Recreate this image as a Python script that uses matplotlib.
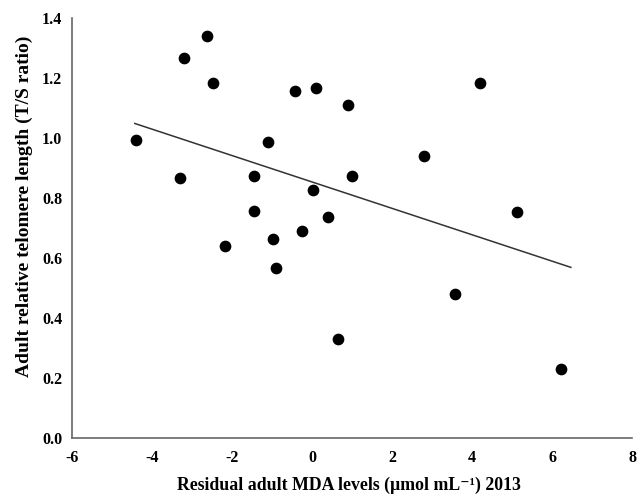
import numpy as np
import matplotlib.pyplot as plt

plt.rcParams['font.family'] = ['Liberation Serif', 'DejaVu Serif']
plt.rcParams['font.weight'] = 'bold'
plt.rcParams['axes.unicode_minus'] = False

# residual adult MDA levels and telomere length (T/S ratio)
mda = [-4.4, -3.3, -3.2, -2.625, -2.475, -2.175, -1.45, -1.45, -1.1, -0.975,
       -0.9, -0.425, -0.25, 0.025, 0.1, 0.4, 0.65, 0.9, 1.0, 2.8,
       3.575, 4.2, 5.125, 6.225]
telomere = [0.993, 0.867, 1.267, 1.34, 1.183, 0.64, 0.873, 0.757, 0.987, 0.663,
            0.567, 1.157, 0.69, 0.827, 1.167, 0.737, 0.33, 1.11, 0.873, 0.94,
            0.48, 1.183, 0.753, 0.23]

# regression line as drawn
line_x = [-4.43, 6.47]
line_y = [1.048, 0.568]

xticks = [-6, -4, -2, 0, 2, 4, 6, 8]
yticks = [0.0, 0.2, 0.4, 0.6, 0.8, 1.0, 1.2, 1.4]

fig = plt.figure(figsize=(6.43, 4.99), dpi=100)
ax = fig.add_axes([0.112, 0.123, 0.871, 0.841])

ax.scatter(mda, telomere, s=55, color='black', zorder=3)
ax.plot(line_x, line_y, color='#333333', linewidth=1.1)

ax.set_xlim(-6, 8)
ax.set_ylim(0, 1.4)
ax.set_xticks(xticks)
ax.set_yticks(yticks)
ax.set_yticklabels(['%.1f' % v for v in yticks])
ax.tick_params(length=0, labelsize=11.5)
ax.tick_params(axis='x', pad=9)
ax.tick_params(axis='y', pad=7)

for s in ('top', 'right'):
    ax.spines[s].set_visible(False)
for s in ('left', 'bottom'):
    ax.spines[s].set_color('#666666')
    ax.spines[s].set_linewidth(1.2)

ax.set_xlabel('Residual adult MDA levels (µmol mL⁻¹) 2013',
              fontsize=12.8, fontweight='bold')
ax.set_ylabel('Adult relative telomere length (T/S ratio)',
              fontsize=14, fontweight='bold')
ax.xaxis.set_label_coords(0.495, -0.092)
ax.yaxis.set_label_coords(-0.07, 0.55)

fig.savefig('out.png', dpi=100)
